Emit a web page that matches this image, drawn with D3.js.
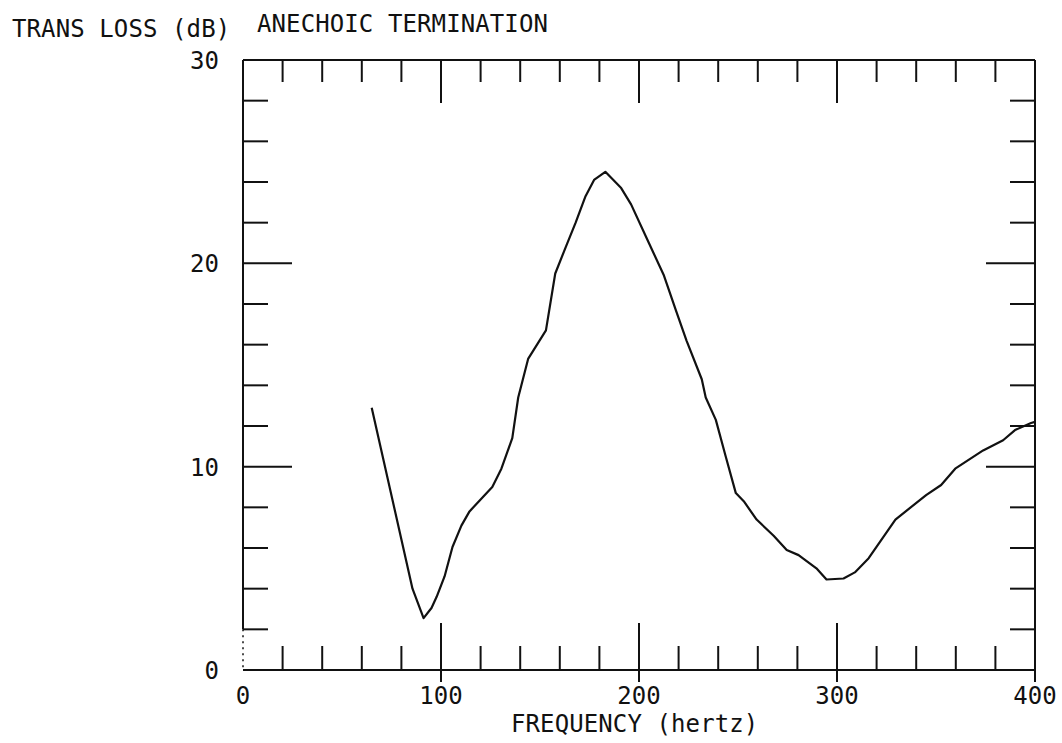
<!DOCTYPE html>
<html>
<head>
<meta charset="utf-8">
<script src="https://cdn.jsdelivr.net/npm/d3@7"></script>
<style>
  html, body { margin: 0; padding: 0; background: #fff; }
  svg { display: block; }
  text { font-family: "DejaVu Sans Mono", "Liberation Mono", monospace; font-size: 24px; fill: #111; letter-spacing: 0.1px; }
</style>
</head>
<body>
<svg id="chart" width="1062" height="743"></svg>
<script>
// Transmission loss of the muffler, anechoic termination
const frequency = [65, 85.6, 91.2, 95.2, 97.8, 101.8, 105.8, 110.3, 114.4, 125.9, 130.5, 136, 139, 144, 153, 157.7, 163, 168, 173, 177.3, 183, 191, 196, 205, 212.6, 218.6, 224, 231.7, 233.7, 238.8, 243.8, 248.9, 252.9, 259.4, 268, 274.6, 280.6, 289.6, 294.7, 303.3, 309, 316, 329.5, 345, 352.6, 359.7, 373.8, 383.9, 389.9, 398, 400];
const transLoss = [12.9, 4.0, 2.55, 3.05, 3.6, 4.6, 6.05, 7.1, 7.8, 9.0, 9.9, 11.4, 13.4, 15.3, 16.7, 19.5, 20.8, 22.0, 23.3, 24.1, 24.5, 23.7, 22.9, 21.0, 19.4, 17.7, 16.2, 14.3, 13.4, 12.3, 10.5, 8.7, 8.3, 7.4, 6.6, 5.9, 5.65, 5.0, 4.45, 4.5, 4.8, 5.5, 7.4, 8.6, 9.1, 9.9, 10.8, 11.3, 11.8, 12.15, 12.2];

const xLabels = [0, 100, 200, 300, 400];
const yLabels = [0, 10, 20, 30];
const xMinorTicks = d3.range(20, 400, 20).filter(d => d % 100 !== 0);
const xMajorTicks = [100, 200, 300];
const yMinorTicks = d3.range(2, 30, 2).filter(d => d % 10 !== 0);
const yMajorTicks = [10, 20];

const svg = d3.select("#chart");
const x = d3.scaleLinear().domain([0, 400]).range([243, 1035]);
const y = d3.scaleLinear().domain([0, 30]).range([670, 60]);

const ink = "#111";
const g = svg.append("g").attr("stroke", ink).attr("stroke-width", 2).attr("fill", "none");

// frame: bottom, top, right and upper part of left edge solid; lowest left segment dotted
g.append("line").attr("x1", x(0)).attr("x2", x(400)).attr("y1", y(0)).attr("y2", y(0));
g.append("line").attr("x1", x(0)).attr("x2", x(400)).attr("y1", y(30)).attr("y2", y(30));
g.append("line").attr("x1", x(400)).attr("x2", x(400)).attr("y1", y(30)).attr("y2", y(0) + 12);
g.append("line").attr("x1", x(0)).attr("x2", x(0)).attr("y1", y(30)).attr("y2", y(2));
g.append("line").attr("x1", x(0)).attr("x2", x(0)).attr("y1", y(2)).attr("y2", y(0))
  .attr("stroke-width", 1.5).attr("stroke-dasharray", "2,4");

// bottom ticks (pointing up), majors also poke below the axis
g.selectAll(".bmin").data(xMinorTicks).join("line")
  .attr("x1", d => x(d)).attr("x2", d => x(d)).attr("y1", y(0)).attr("y2", y(0) - 24);
g.selectAll(".bmaj").data(xMajorTicks).join("line")
  .attr("x1", d => x(d)).attr("x2", d => x(d)).attr("y1", y(0) + 12).attr("y2", y(0) - 47);

// top ticks (pointing down)
g.selectAll(".tmin").data(xMinorTicks).join("line")
  .attr("x1", d => x(d)).attr("x2", d => x(d)).attr("y1", y(30)).attr("y2", y(30) + 22);
g.selectAll(".tmaj").data(xMajorTicks).join("line")
  .attr("x1", d => x(d)).attr("x2", d => x(d)).attr("y1", y(30)).attr("y2", y(30) + 43);

// left ticks (pointing right)
g.selectAll(".lmin").data(yMinorTicks).join("line")
  .attr("x1", x(0)).attr("x2", x(0) + 25).attr("y1", d => y(d)).attr("y2", d => y(d));
g.selectAll(".lmaj").data(yMajorTicks).join("line")
  .attr("x1", x(0)).attr("x2", x(0) + 49).attr("y1", d => y(d)).attr("y2", d => y(d));

// right ticks (pointing left)
g.selectAll(".rmin").data(yMinorTicks).join("line")
  .attr("x1", x(400)).attr("x2", x(400) - 25).attr("y1", d => y(d)).attr("y2", d => y(d));
g.selectAll(".rmaj").data(yMajorTicks).join("line")
  .attr("x1", x(400)).attr("x2", x(400) - 49).attr("y1", d => y(d)).attr("y2", d => y(d));

// x tick labels
svg.selectAll(".xl").data(xLabels).join("text")
  .attr("x", d => x(d)).attr("y", 704).attr("text-anchor", "middle").text(d => d);

// y tick labels
svg.selectAll(".yl").data(yLabels).join("text")
  .attr("x", 219).attr("y", d => y(d) + 9).attr("text-anchor", "end").text(d => d);

// titles
svg.append("text").attr("x", 12).attr("y", 37).text("TRANS LOSS (dB)");
svg.append("text").attr("x", 257).attr("y", 32).text("ANECHOIC TERMINATION");
svg.append("text").attr("x", 511).attr("y", 732).text("FREQUENCY (hertz)");

// the curve
const pts = frequency.map((f, i) => [f, transLoss[i]]);
const line = d3.line().x(d => x(d[0])).y(d => y(d[1]));
svg.append("path").datum(pts)
  .attr("d", line)
  .attr("fill", "none").attr("stroke", ink).attr("stroke-width", 2.2)
  .attr("stroke-linejoin", "round");
</script>
</body>
</html>
